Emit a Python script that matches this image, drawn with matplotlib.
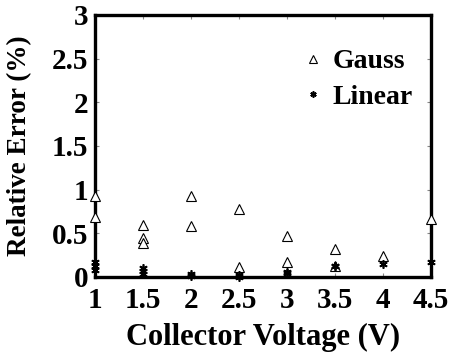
import matplotlib
matplotlib.use("Agg")
import matplotlib.pyplot as plt

gauss_x = [1, 1, 1.5, 1.5, 1.5, 2, 2, 2.5, 2.5, 3, 3, 3.5, 3.5, 4, 4.5]
gauss_y = [0.93, 0.69, 0.59, 0.45, 0.39, 0.93, 0.58, 0.78, 0.11, 0.47, 0.17, 0.32, 0.12, 0.24, 0.66]
linear_x = [1, 1, 1, 1.5, 1.5, 1.5, 2, 2, 2.5, 2.5, 3, 3, 3.5, 3.5, 4, 4.5]
linear_y = [0.17, 0.13, 0.08, 0.10, 0.07, 0.03, 0.03, 0.01, 0.02, 0.0, 0.06, 0.05, 0.13, 0.12, 0.15, 0.17]
x_ticks = [1, 1.5, 2, 2.5, 3, 3.5, 4, 4.5]
x_ticklabels = ["1", "1.5", "2", "2.5", "3", "3.5", "4", "4.5"]
y_ticks = [0, 0.5, 1, 1.5, 2, 2.5, 3]
y_ticklabels = ["0", "0.5", "1", "1.5", "2", "2.5", "3"]

plt.rcParams['font.family'] = ['Liberation Serif', 'DejaVu Serif']
plt.rcParams['font.weight'] = 'bold'

fig = plt.figure(figsize=(4.5, 3.62), dpi=100)
ax = fig.add_axes([0.211, 0.235, 0.747, 0.724])

ax.plot(gauss_x, gauss_y, linestyle='none', marker='^', markersize=7,
        markerfacecolor='white', markeredgecolor='black', markeredgewidth=0.8,
        label='Gauss', clip_on=False, zorder=3)
ax.plot(linear_x, linear_y, linestyle='none', marker=(6, 2, 0), markersize=6,
        markerfacecolor='black', markeredgecolor='black', markeredgewidth=1.2,
        label='Linear', clip_on=False, zorder=3)

ax.set_xlim(1, 4.5)
ax.set_ylim(0, 3)
ax.set_xticks(x_ticks)
ax.set_xticklabels(x_ticklabels)
ax.set_yticks(y_ticks)
ax.set_yticklabels(y_ticklabels)
ax.tick_params(direction='in', length=3, width=0.8, labelsize=21,
               top=True, right=True, color='#888888')
ax.tick_params(axis='x', pad=7)
ax.tick_params(axis='y', pad=5)
for lab in ax.get_xticklabels() + ax.get_yticklabels():
    lab.set_fontweight('bold')
for s in ax.spines.values():
    s.set_linewidth(2.4)

ax.set_xlabel('Collector Voltage (V)', fontsize=22, fontweight='bold', labelpad=7)
ax.set_ylabel('Relative Error (%)', fontsize=19.5, fontweight='bold', labelpad=14)

leg = ax.legend(loc='upper right', bbox_to_anchor=(1.02, 0.965), frameon=False,
                prop={'size': 20, 'weight': 'bold'}, handlelength=0.8,
                handletextpad=0.3, labelspacing=0.35, markerscale=0.75)

fig.savefig('out.png', dpi=100)
